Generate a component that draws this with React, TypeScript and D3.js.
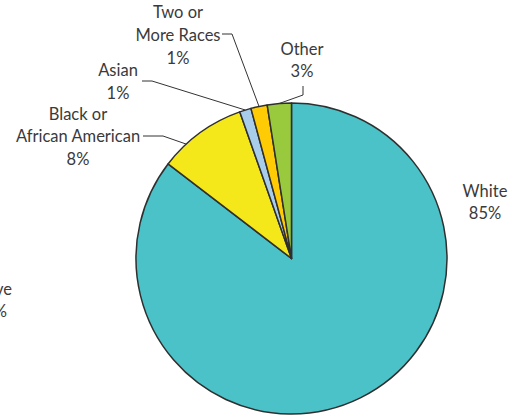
import React from "react";
import * as d3 from "d3";

const categories = ["White", "Black or African American", "Asian", "Two or More Races", "Other"];
const values = [85.4, 9.2, 1.2, 1.7, 2.5];
const percentLabels = ["85%", "8%", "1%", "1%", "3%"];
const colors = ["#4AC2C7", "#F5E81A", "#A8CDEB", "#FFCB05", "#99C93C"];

const W = 522;
const H = 416;
const cx = 291.5;
const cy = 258.5;
const R = 155.5;

const FONT = "Lato, 'Open Sans', sans-serif";

export default function App() {
  const pie = d3.pie<number>().sort(null).value((d) => d)(values);
  const arc = d3.arc<d3.PieArcDatum<number>>().innerRadius(0).outerRadius(R);

  const rim = (i: number, t: number): [number, number] => {
    const a = pie[i].startAngle + (pie[i].endAngle - pie[i].startAngle) * t;
    return [cx + R * Math.sin(a), cy - R * Math.cos(a)];
  };

  const textStyle: React.CSSProperties = { fontFamily: FONT, fontSize: 16.5, fill: "#3a3a3a" };

  const labels = [
    { i: 0, x: 485, ys: [197, 219], lines: ["White", percentLabels[0]] },
    { i: 1, x: 78, ys: [120, 142, 165], lines: ["Black or", "African American", percentLabels[1]] },
    { i: 2, x: 118, ys: [76, 99], lines: ["Asian", percentLabels[2]] },
    { i: 3, x: 178, ys: [18, 41, 64], lines: ["Two or", "More Races", percentLabels[3]] },
    { i: 4, x: 302, ys: [55, 77], lines: ["Other", percentLabels[4]] },
  ];

  const pBlack = rim(1, 0.3);
  const pAsian = rim(2, 0.5);
  const pTwo = rim(3, 0.5);
  const pOther = rim(4, 0.5);

  const leaders: [number, number][][] = [
    [[143, 136], [163, 136], [pBlack[0], pBlack[1]]],
    [[142, 81], [152, 81], [pAsian[0], pAsian[1]]],
    [[222, 34], [232, 34], [pTwo[0], pTwo[1]]],
    [[303, 86], [303, 95], [pOther[0], pOther[1]]],
  ];
  const line = d3.line();

  return (
    <svg width={W} height={H} style={{ position: "fixed", left: 0, top: 0, background: "#fff" }}>
      <g transform={`translate(${cx},${cy})`}>
        {pie.map((d, i) => (
          <path key={categories[i]} d={arc(d) || ""} fill={colors[i]} stroke="#2f2f2f" strokeWidth={1.5} strokeLinejoin="round" />
        ))}
      </g>
      {leaders.map((pts, k) => (
        <path key={k} d={line(pts) || ""} fill="none" stroke="#333" strokeWidth={1} />
      ))}
      {labels.map((l) =>
        l.lines.map((t, j) => (
          <text key={l.i + "-" + j} x={l.x} y={l.ys[j]} textAnchor="middle" style={textStyle}>
            {t}
          </text>
        ))
      )}
      <text x={12} y={295} textAnchor="end" style={textStyle}>Native</text>
      <text x={7} y={317} textAnchor="end" style={textStyle}>0%</text>
    </svg>
  );
}
